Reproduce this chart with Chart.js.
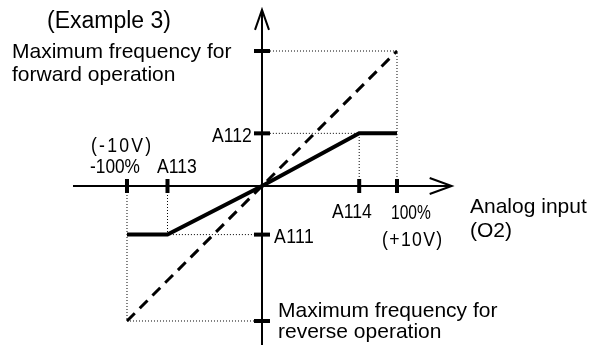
<!DOCTYPE html>
<html>
<head>
<meta charset="utf-8">
<script src="https://cdn.jsdelivr.net/npm/chart.js@4.4.0/dist/chart.umd.min.js"></script>
<style>
html,body{margin:0;padding:0;background:#fff;}
#wrap{width:601px;height:345px;}
</style>
</head>
<body>
<div id="wrap"><canvas id="c" width="601" height="345"></canvas></div>
<script>
// analog input (%) -> output frequency (%) , example 3
var inputPct = [-100, -70, 0, 72, 100];
var outputPct = [-36, -36, 0, 39, 39];
// reference line: full range
var refInput = [-100, 100];
var refOutput = [-100, 100];
// guide corners (dotted lines back to the axes)
var cornerX = [-100, -70, 72, 100];
var cornerY = [-100, -36, 39, 100];
// tick marks
var xTickVals = [-100, -70, 72, 100];
var yTickVals = [100, 39, -36, -100];

var toPts = function(xs, ys){
    var arr = [];
    for (var i = 0; i < xs.length; i++) arr.push({x: xs[i], y: ys[i]});
    return arr;
};

var datasets = [];
datasets.push({
    data: toPts(inputPct, outputPct),
    showLine: true, borderColor: '#000', borderWidth: 4,
    pointRadius: 0, borderJoinStyle: 'miter', order: 0
});
datasets.push({
    data: toPts(refInput, refOutput),
    showLine: true, borderColor: '#000', borderWidth: 3,
    borderDash: [11, 7], pointRadius: 0, order: 1
});
cornerX.forEach(function(cx, i){
    var cy = cornerY[i];
    datasets.push({
        data: [{x: cx, y: 0}, {x: cx, y: cy}, {x: 0, y: cy}],
        showLine: true, borderColor: '#000', borderWidth: 1,
        borderDash: [1, 2], pointRadius: 0, order: 2
    });
});

// half-width style labels: squeeze or space each string to ~10px per char
var narrowText = function(ctx, str, x, y){
    ctx.save();
    ctx.font = '21px "Liberation Sans", Arial, sans-serif';
    var sx = 0.84;
    var w = ctx.measureText(str).width;
    var target = str.length * 10.2 - 1;
    var ls = (target / sx - w) / (str.length - 1);
    if (ls < 0) { ls = 0; sx = target / w; }
    ctx.letterSpacing = ls + 'px';
    ctx.translate(x, y);
    ctx.scale(sx, 1);
    ctx.fillText(str, 0, 0);
    ctx.restore();
};

var diagramPlugin = {
    id: 'diagram',
    beforeDatasetsDraw: function(chart){
        var ctx = chart.ctx;
        var xs = chart.scales.x, ys = chart.scales.y;
        var ox = xs.getPixelForValue(0), oy = ys.getPixelForValue(0);
        ctx.save();
        ctx.strokeStyle = '#000';
        ctx.lineWidth = 2;
        ctx.beginPath();
        ctx.moveTo(xs.getPixelForValue(-140), oy);
        ctx.lineTo(xs.getPixelForValue(140.5), oy);
        ctx.moveTo(ox, ys.getPixelForValue(-118));
        ctx.lineTo(ox, ys.getPixelForValue(130.5));
        ctx.stroke();
        // arrow heads
        var rx = xs.getPixelForValue(140.5), ty = ys.getPixelForValue(130.5);
        ctx.lineWidth = 2;
        ctx.beginPath();
        ctx.moveTo(rx - 22, oy - 8); ctx.lineTo(rx, oy); ctx.lineTo(rx - 22, oy + 8);
        ctx.moveTo(ox - 7, ty + 20); ctx.lineTo(ox, ty); ctx.lineTo(ox + 7, ty + 20);
        ctx.stroke();
        ctx.restore();
    },
    afterDatasetsDraw: function(chart){
        var ctx = chart.ctx;
        var xs = chart.scales.x, ys = chart.scales.y;
        var ox = xs.getPixelForValue(0), oy = ys.getPixelForValue(0);
        ctx.save();
        ctx.fillStyle = '#000';
        xTickVals.forEach(function(v){
            var px = xs.getPixelForValue(v);
            ctx.fillRect(px - 2, oy - 7, 4, 14);
        });
        yTickVals.forEach(function(v){
            var py = ys.getPixelForValue(v);
            ctx.fillRect(ox - 8, py - 2, 16, 4);
        });
        ctx.textBaseline = 'alphabetic';
        ctx.textAlign = 'left';
        narrowText(ctx, '(-10V)', 91, 152);
        narrowText(ctx, '-100%', 90, 173);
        narrowText(ctx, 'A113', 157, 173);
        narrowText(ctx, 'A112', 212, 142);
        narrowText(ctx, 'A114', 332, 218);
        narrowText(ctx, '100%', 391, 219);
        narrowText(ctx, '(+10V)', 382, 246);
        narrowText(ctx, 'A111', 274, 243);
        ctx.font = '23px "Liberation Sans", Arial, sans-serif';
        ctx.fillText('(Example 3)', 47, 28);
        ctx.font = '21px "Liberation Sans", Arial, sans-serif';
        ctx.fillText('Maximum frequency for', 12, 58);
        ctx.fillText('forward operation', 12, 81);
        ctx.fillText('Analog input', 470, 213);
        ctx.fillText('(O2)', 470, 237);
        ctx.fillText('Maximum frequency for', 278, 317);
        ctx.fillText('reverse operation', 278, 338);
        ctx.restore();
    }
};

var chart = new Chart(document.getElementById('c'), {
    type: 'scatter',
    data: {datasets: datasets},
    options: {
        responsive: false,
        devicePixelRatio: 1,
        animation: false,
        layout: {padding: 0},
        plugins: {legend: {display: false}, tooltip: {enabled: false}},
        scales: {
            x: {type: 'linear', display: false, min: -194.07, max: 251.11},
            y: {type: 'linear', display: false, min: -117.78, max: 137.78}
        }
    },
    plugins: [diagramPlugin]
});
</script>
</body>
</html>
